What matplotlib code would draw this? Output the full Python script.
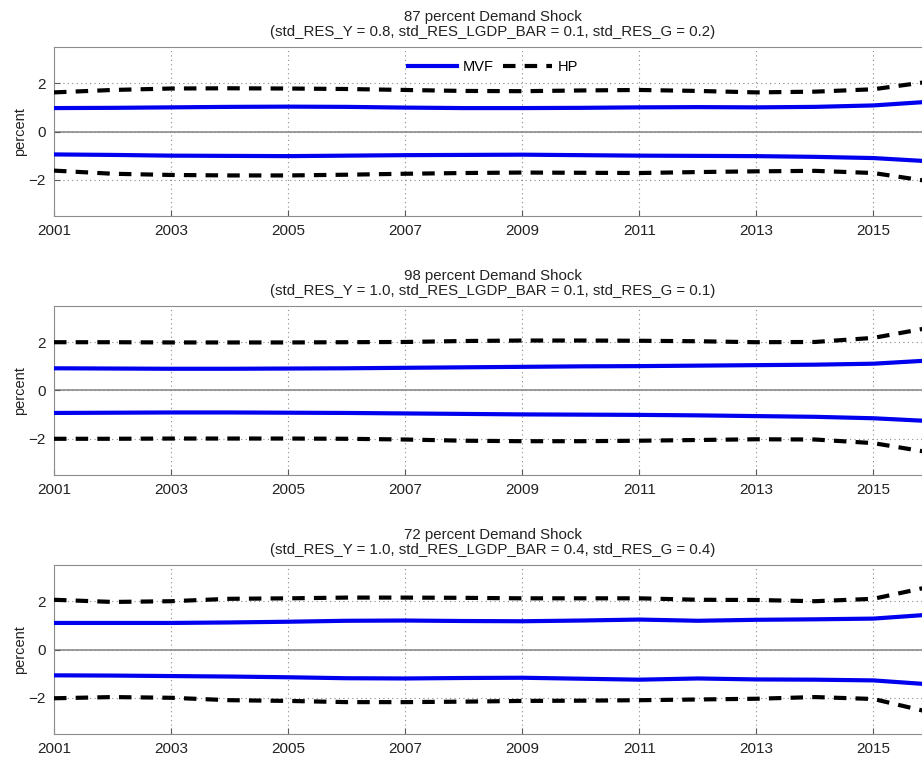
import matplotlib
matplotlib.use("Agg")
import matplotlib.pyplot as plt
import numpy as np

plt.rcParams['font.family'] = ['Liberation Sans', 'DejaVu Sans']

years = [2001, 2002, 2003, 2004, 2005, 2006, 2007, 2008, 2009, 2010, 2011, 2012, 2013, 2014, 2015, 2016]

titles = [
    "87 percent Demand Shock\n(std_RES_Y = 0.8, std_RES_LGDP_BAR = 0.1, std_RES_G = 0.2)",
    "98 percent Demand Shock\n(std_RES_Y = 1.0, std_RES_LGDP_BAR = 0.1, std_RES_G = 0.1)",
    "72 percent Demand Shock\n(std_RES_Y = 1.0, std_RES_LGDP_BAR = 0.4, std_RES_G = 0.4)",
]

# panel 1
mvf_up_1 = [0.97, 0.98, 1.00, 1.02, 1.03, 1.02, 0.99, 0.97, 0.97, 0.98, 1.00, 1.01, 1.00, 1.02, 1.08, 1.24]
mvf_lo_1 = [-0.95, -0.97, -1.00, -1.01, -1.02, -1.00, -0.98, -0.97, -0.96, -0.98, -1.00, -1.01, -1.02, -1.05, -1.10, -1.24]
hp_up_1 = [1.62, 1.72, 1.78, 1.79, 1.78, 1.76, 1.72, 1.68, 1.67, 1.70, 1.72, 1.68, 1.62, 1.65, 1.75, 2.08]
hp_lo_1 = [-1.62, -1.75, -1.80, -1.82, -1.82, -1.79, -1.75, -1.72, -1.70, -1.71, -1.72, -1.68, -1.65, -1.63, -1.72, -2.08]

# panel 2
mvf_up_2 = [0.92, 0.91, 0.90, 0.90, 0.91, 0.92, 0.94, 0.96, 0.98, 1.00, 1.01, 1.03, 1.05, 1.07, 1.11, 1.25]
mvf_lo_2 = [-0.93, -0.92, -0.91, -0.91, -0.92, -0.93, -0.95, -0.97, -0.99, -1.00, -1.01, -1.03, -1.06, -1.09, -1.15, -1.27]
hp_up_2 = [2.00, 2.00, 1.99, 1.99, 1.99, 2.00, 2.01, 2.05, 2.07, 2.07, 2.06, 2.04, 2.00, 2.01, 2.18, 2.62]
hp_lo_2 = [-2.00, -2.00, -1.99, -1.99, -1.99, -2.00, -2.03, -2.08, -2.10, -2.10, -2.08, -2.05, -2.02, -2.03, -2.18, -2.58]

# panel 3
mvf_up_3 = [1.10, 1.10, 1.10, 1.12, 1.15, 1.19, 1.20, 1.18, 1.17, 1.20, 1.24, 1.19, 1.23, 1.25, 1.28, 1.45]
mvf_lo_3 = [-1.07, -1.08, -1.10, -1.12, -1.15, -1.19, -1.20, -1.18, -1.17, -1.21, -1.25, -1.20, -1.24, -1.25, -1.28, -1.45]
hp_up_3 = [2.06, 1.97, 2.00, 2.10, 2.12, 2.15, 2.15, 2.14, 2.12, 2.12, 2.12, 2.06, 2.05, 2.00, 2.10, 2.62]
hp_lo_3 = [-2.02, -1.97, -2.00, -2.10, -2.13, -2.18, -2.18, -2.16, -2.13, -2.12, -2.10, -2.07, -2.04, -1.97, -2.05, -2.62]

panels = [
    (mvf_up_1, mvf_lo_1, hp_up_1, hp_lo_1),
    (mvf_up_2, mvf_lo_2, hp_up_2, hp_lo_2),
    (mvf_up_3, mvf_lo_3, hp_up_3, hp_lo_3),
]

fig = plt.figure(figsize=(9.22, 7.57), dpi=100)

W, H = 922.0, 757.0
tops = [47, 306, 565]
for k, (mu, ml, hu, hl) in enumerate(panels):
    top = tops[k]
    ax = fig.add_axes([54 / W, 1 - (top + 169) / H, 878 / W, 169 / H])
    ax.axhline(0, color='0.55', lw=1.2, zorder=1)
    l1, = ax.plot(years, mu, color='#0000ee', lw=3, label='MVF', zorder=3)
    ax.plot(years, ml, color='#0000ee', lw=3, zorder=3)
    l2, = ax.plot(years, hu, color='black', lw=3, ls=(0, (3, 2.2)), label='HP', zorder=4)
    ax.plot(years, hl, color='black', lw=3, ls=(0, (3, 2.2)), zorder=4)
    ax.set_xlim(2001, 2016)
    ax.set_ylim(-3.5, 3.5)
    ax.set_xticks(range(2001, 2016, 2))
    ax.set_yticks([-2, 0, 2])
    ax.set_yticklabels(['\u22122', '0', '2'])
    ax.grid(True, ls=(0, (1, 3)), color='0.55', lw=0.8)
    ax.tick_params(direction='in', length=4, labelsize=11, colors='0.35', labelcolor='#222222', pad=6)
    for s in ax.spines.values():
        s.set_color('0.55')
    ax.set_ylabel('percent', fontsize=10.5, color='#222222', labelpad=1)
    ax.set_title(titles[k], fontsize=10.8, color='#222222', linespacing=1.05, pad=8)
    if k == 0:
        ax.legend(handles=[l1, l2], loc='upper center', ncol=2, frameon=False,
                  fontsize=10.5, handlelength=3.4, columnspacing=0.6, handletextpad=0.4,
                  bbox_to_anchor=(0.5, 1.0))

fig.savefig('out.png', dpi=100)
